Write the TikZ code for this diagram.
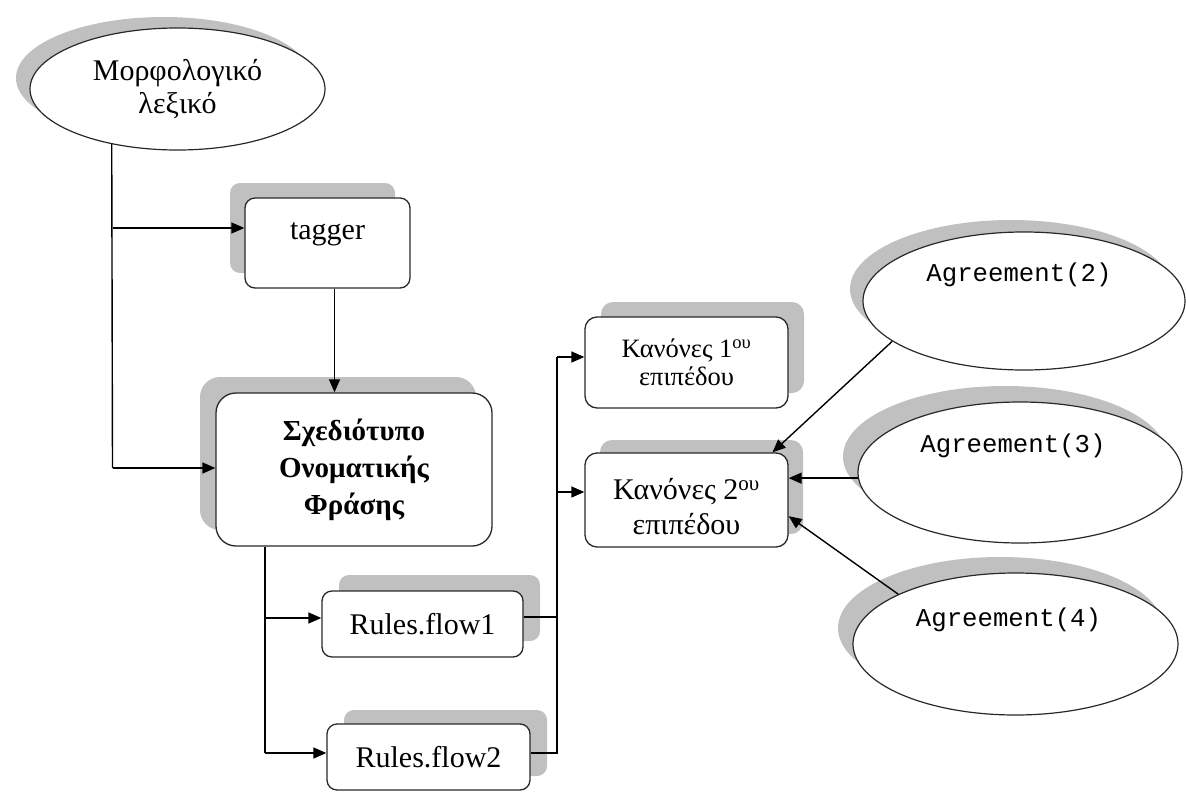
\documentclass[tikz,border=0pt]{standalone}
\usepackage{fontspec}
\setmainfont{Liberation Serif}
\setmonofont{Liberation Mono}
\usetikzlibrary{shapes.geometric,arrows.meta,shadows,positioning}
\definecolor{shgray}{RGB}{192,192,192}
\definecolor{edge}{RGB}{40,40,40}
\tikzset{
  shd/.style 2 args={general shadow={fill=shgray, shadow xshift=#1pt, shadow yshift=#2pt}},
  rbox/.style={draw=edge, fill=white, line width=1.3pt, rounded corners=10pt, inner sep=0pt},
  oval/.style={ellipse, draw=edge, fill=white, line width=1.2pt, inner sep=0pt},
  conn/.style={line width=1.4pt, draw=black},
  arr/.style={conn, -{Triangle[length=13pt,width=11pt]}},
  serifA/.style={font=\fontsize{30}{33}\selectfont},
  agfont/.style={font=\ttfamily\fontsize{25.7}{28}\selectfont},
}
\begin{document}
\begin{tikzpicture}[x=1pt,y=-1pt]
\useasboundingbox (0,0) rectangle (1186,792);

% ---- nodes ----
\node[oval, shd={-14}{11}, minimum width=295pt, minimum height=122pt, align=center,
      font=\fontsize{30}{33}\selectfont] (morph) at (177.5,89) {Μορφολογικό\\λεξικό};

\node[rbox, shd={-15}{15}, minimum width=165pt, minimum height=90pt,
      label={[serifA, yshift=9pt]center:tagger}] (tag) at (327.5,243) {};

\node[rbox, shd={-16}{16}, rounded corners=20pt, minimum width=276pt, minimum height=153pt,
      align=center, font=\bfseries\fontsize{29}{37}\selectfont] (sch) at (354,469.5)
      {Σχεδιότυπο\\Ονοματικής\\Φράσης};

\node[rbox, shd={17}{16}, minimum width=201pt, minimum height=66pt, serifA] (rf1) at (422.5,624) {Rules.flow1};
\node[rbox, shd={17}{14}, minimum width=203pt, minimum height=66pt, serifA] (rf2) at (428.5,757) {Rules.flow2};

\node[rbox, shd={16}{15}, rounded corners=12pt, minimum width=203pt, minimum height=91pt,
      align=center, font=\fontsize{26.5}{28}\selectfont] (k1) at (686.5,362.5)
      {Κανόνες 1\textsuperscript{ου}\\επιπέδου};
\node[rbox, shd={15}{13}, rounded corners=12pt, minimum width=203pt, minimum height=94pt,
      label={[align=center, font=\fontsize{30}{35}\selectfont, yshift=-7pt]center:{Κανόνες 2\textsuperscript{ου}\\επιπέδου}}] (k2) at (686.5,500) {};

\node[oval, shd={-13}{12}, minimum width=322pt, minimum height=138pt,
      label={[agfont, xshift=-5pt, yshift=26pt]center:Agreement(2)}] (ag2) at (1024,301) {};
\node[oval, shd={-15}{16}, minimum width=324pt, minimum height=141pt,
      label={[agfont, xshift=-7pt, yshift=27pt]center:Agreement(3)}] (ag3) at (1020,472.5) {};
\node[oval, shd={-15}{16}, minimum width=325pt, minimum height=142pt,
      label={[agfont, xshift=-7pt, yshift=24pt]center:Agreement(4)}] (ag4) at (1015.5,644) {};

% ---- junction points ----
\coordinate (j1) at (112.5,228);
\coordinate (j2) at (112.5,468);
\coordinate (b1) at (265,618);
\coordinate (b2) at (265,753);
\coordinate (v1) at (557,617);
\coordinate (v2) at (557,753);
\coordinate (v3) at (557,357);
\coordinate (v4) at (557,492);

% ---- connectors ----
\draw[conn] (morph.220) -- (j2);
\draw[arr] (j1) -- (j1 -| tag.west);
\draw[arr] (j2) -- (j2 -| sch.west);
\draw[arr] ([xshift=7pt]tag.south) -- ([xshift=7pt]tag.south |- sch.north);

\draw[conn] (b1 |- sch.south) -- (b2);
\draw[arr] (b1) -- (b1 -| rf1.west);
\draw[arr] (b2) -- (b2 -| rf2.west);

\draw[conn] (v1 -| rf1.east) -- (v1);
\draw[conn] (v2 -| rf2.east) -- (v2) -- (v3);
\draw[arr] (v3) -- (v3 -| k1.west);
\draw[arr] (v4) -- (v4 -| k2.west);

\draw[arr] (ag2.197) -- (k2.29);
\draw[arr] (ag3.182) -- (ag3.182 -| k2.east);
\draw[arr] (ag4.157) -- (k2.-9);
\end{tikzpicture}
\end{document}
